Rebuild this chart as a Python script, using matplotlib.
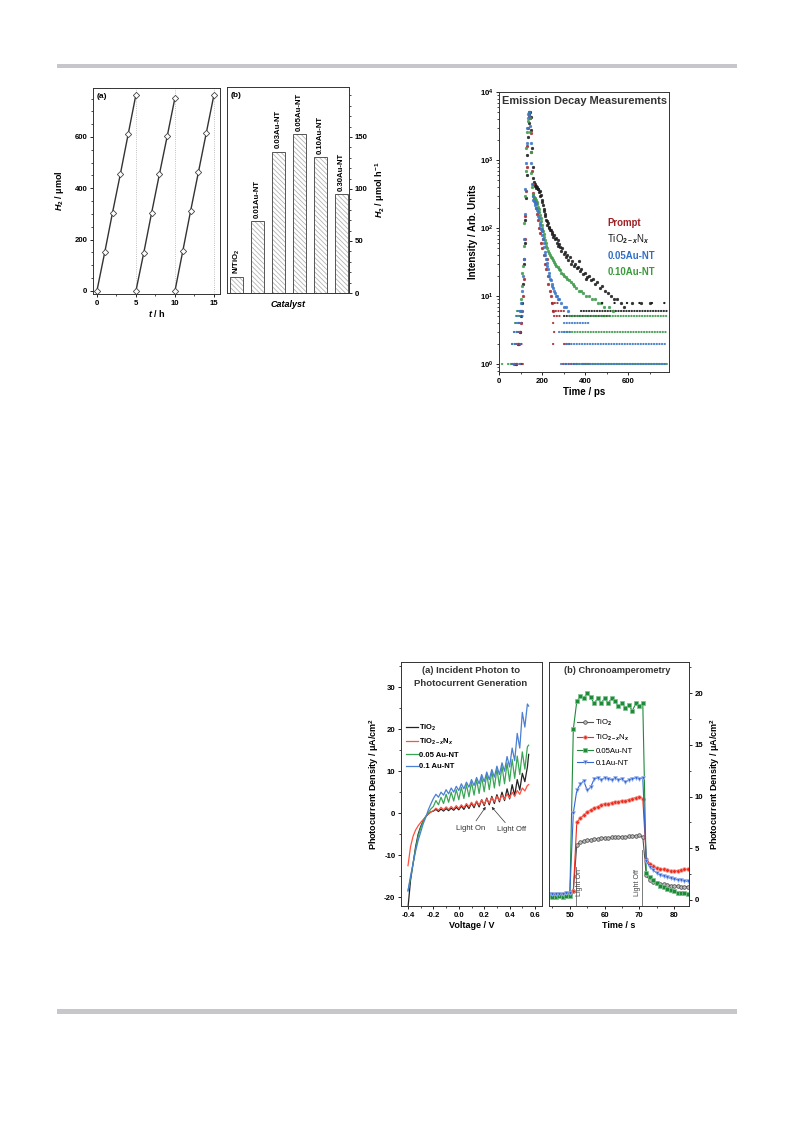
import numpy as np
import matplotlib
matplotlib.use('Agg')
import matplotlib.pyplot as plt
from matplotlib.patches import Rectangle
from matplotlib.ticker import MultipleLocator, LogLocator, NullFormatter

plt.rcParams['font.family'] = ['Liberation Sans', 'DejaVu Sans']
plt.rcParams['font.weight'] = 'bold'
plt.rcParams['axes.labelweight'] = 'bold'
plt.rcParams['mathtext.fontset'] = 'custom'
plt.rcParams['mathtext.rm'] = 'Liberation Sans:bold'
plt.rcParams['mathtext.it'] = 'Liberation Sans:italic:bold'
plt.rcParams['mathtext.bf'] = 'Liberation Sans:bold'
plt.rcParams['axes.linewidth'] = 0.8
plt.rcParams['hatch.linewidth'] = 0.6
plt.rcParams['axes.unicode_minus'] = False

# ---------------- data ----------------
# (a) H2 evolution, three cycles
cycle1_t = [0, 1, 2, 3, 4, 5]
cycle1_h2 = [0, 150, 305, 455, 610, 765]
cycle2_t = [5, 6, 7, 8, 9, 10]
cycle2_h2 = [0, 148, 303, 454, 602, 753]
cycle3_t = [10, 11, 12, 13, 14, 15]
cycle3_h2 = [0, 155, 311, 462, 614, 765]

# (b) H2 rates
catalysts = ['N/TiO$_2$', '0.01Au-NT', '0.03Au-NT', '0.05Au-NT', '0.10Au-NT', '0.30Au-NT']
rates = [15, 69, 136, 153, 131, 95]

# Emission decay (time ps, counts)
prompt_pts = [(70, 1), (78, 1), (86, 2), (92, 2), (98, 3), (103, 4), (107, 6), (111, 10), (114, 18),
              (117, 35), (120, 70), (123, 150), (126, 350), (129, 800), (132, 1600), (135, 3000),
              (138, 4500), (141, 5000), (144, 4200), (147, 2500), (150, 1300), (153, 700), (156, 450),
              (159, 330), (162, 280), (166, 240), (170, 200), (175, 160), (180, 130), (185, 100),
              (190, 85), (194, 60), (198, 95), (202, 50), (206, 70), (210, 40), (214, 30), (218, 25),
              (222, 35), (226, 20), (230, 15), (235, 12), (240, 10), (246, 8), (252, 6)]
tin_pts = [(80, 1), (90, 2), (98, 3), (104, 5), (109, 8), (113, 15), (117, 30), (120, 60), (123, 130),
           (126, 280), (129, 600), (132, 1200), (135, 2200), (138, 3500), (141, 4800), (144, 5000),
           (147, 4300), (150, 2800), (153, 1500), (156, 800), (159, 550), (162, 470), (165, 440),
           (168, 410), (171, 420), (174, 390), (177, 400), (180, 370), (183, 380), (186, 340),
           (189, 350), (192, 300), (195, 310), (198, 260), (201, 240), (204, 215), (207, 190),
           (210, 175), (213, 160), (216, 150), (219, 130), (222, 125), (225, 112), (228, 118),
           (231, 100), (234, 105), (237, 92), (240, 95), (244, 82), (248, 88), (252, 75), (256, 80),
           (260, 68), (264, 72), (268, 60), (272, 66), (276, 55), (280, 58), (285, 52), (290, 46),
           (295, 50), (300, 42), (305, 45), (310, 38), (316, 40), (322, 34), (328, 37), (334, 30),
           (340, 33), (347, 28), (354, 30), (361, 26), (368, 27), (372, 33), (375, 23), (383, 25),
           (391, 21), (399, 22), (405, 18), (408, 19), (417, 20), (426, 17), (436, 18), (446, 15),
           (457, 16), (468, 13), (480, 14), (492, 12), (505, 11), (520, 10), (535, 9), (550, 9),
           (565, 8), (580, 7), (620, 8), (660, 8), (700, 8)]
au005_pts = [(100, 6), (104, 8), (108, 12), (111, 20), (114, 35), (117, 70), (120, 160), (123, 380),
             (126, 900), (129, 1800), (132, 3000), (135, 4200), (138, 5000), (141, 4600), (144, 3200),
             (147, 1800), (150, 900), (153, 450), (156, 300), (159, 260), (162, 250), (165, 235),
             (168, 220), (171, 230), (174, 200), (177, 185), (180, 170), (183, 150), (186, 140),
             (189, 120), (192, 110), (195, 98), (198, 90), (201, 80), (204, 70), (207, 60), (210, 52),
             (213, 45), (216, 40), (219, 35), (222, 31), (225, 28), (228, 25), (231, 22), (234, 20),
             (237, 18), (240, 17), (244, 15), (248, 14), (252, 13), (256, 12), (260, 11), (265, 10),
             (270, 10), (275, 9), (280, 9), (290, 8), (300, 7), (310, 7), (320, 6)]
au010_pts = [(98, 6), (102, 9), (106, 14), (109, 22), (112, 28), (115, 55), (118, 120), (121, 300),
             (124, 700), (127, 1500), (130, 2600), (133, 3800), (136, 4700), (139, 5000), (142, 4200),
             (145, 2600), (148, 1300), (151, 650), (154, 400), (157, 320), (160, 300), (163, 290),
             (166, 280), (169, 270), (172, 255), (175, 240), (178, 225), (181, 205), (184, 190),
             (187, 170), (190, 155), (193, 140), (196, 125), (199, 112), (202, 100), (205, 90),
             (208, 82), (211, 74), (214, 67), (217, 60), (220, 55), (224, 50), (228, 46), (232, 43),
             (236, 40), (240, 38), (245, 36), (250, 34), (255, 32), (260, 30), (266, 28), (272, 27),
             (278, 25), (284, 24), (290, 22), (297, 21), (304, 20), (311, 19), (318, 18), (326, 17),
             (334, 16), (342, 15), (350, 14), (360, 13), (370, 12), (380, 12), (392, 11), (404, 10),
             (416, 10), (430, 9), (445, 9), (460, 8), (475, 8), (490, 7), (510, 7), (530, 6)]
# quantised count plateaus: (counts, t_start, t_end)
prompt_runs = [(1, 62, 112), (2, 78, 110), (3, 86, 110), (4, 92, 112), (1, 298, 365), (1, 392, 420),
               (2, 250, 254), (2, 300, 335), (3, 255, 262), (4, 250, 262), (5, 255, 292),
               (6, 250, 300), (8, 246, 272)]
tin_runs = [(1, 100, 112), (6, 380, 780), (5, 300, 520)]
tin_sparse_runs = [(8, 480, 780)]
au005_runs = [(1, 60, 100), (2, 62, 108), (3, 72, 108), (4, 80, 110), (5, 85, 110), (6, 90, 110),
              (1, 290, 780), (2, 310, 780), (3, 280, 330), (4, 300, 420)]
au010_runs = [(1, 12, 20), (1, 40, 62), (2, 60, 80), (3, 70, 90), (4, 75, 95), (5, 80, 100),
              (6, 85, 100), (5, 330, 780), (3, 300, 780), (1, 360, 780)]

# Photocurrent vs voltage (chopped light)
voltage = [-0.40, -0.38, -0.36, -0.34, -0.32, -0.30, -0.28, -0.26, -0.24, -0.22, -0.20,
           -0.18, -0.16, -0.14, -0.12, -0.10, -0.08, -0.06, -0.04, -0.02, 0.00,
           0.02, 0.04, 0.06, 0.08, 0.10, 0.12, 0.14, 0.16, 0.18, 0.20,
           0.22, 0.24, 0.26, 0.28, 0.30, 0.32, 0.34, 0.36, 0.38, 0.40,
           0.42, 0.44, 0.46, 0.48, 0.50, 0.52, 0.54, 0.55]
j_tio2 = [-22.5, -16, -12, -8, -5, -3.2, -1.8, -0.8, -0.2, 0.3, 0.5,
          0.9, 0.4, 1.0, 0.5, 1.1, 0.6, 1.2, 0.7, 1.4, 0.8,
          1.7, 0.9, 2.0, 1.1, 2.4, 1.3, 2.8, 1.5, 3.2, 1.8,
          3.6, 2.0, 4.0, 2.3, 4.4, 2.7, 5.0, 3.0, 5.8, 3.4,
          6.8, 4.2, 8.0, 5.5, 9.5, 7.5, 11.0, 14.0]
j_tion = [-12.5, -8, -5.5, -4, -3, -2.2, -1.5, -0.8, -0.2, 0.3, 0.6,
          1.2, 0.7, 1.4, 0.8, 1.5, 0.9, 1.6, 1.0, 1.8, 1.1,
          2.0, 1.3, 2.3, 1.5, 2.6, 1.7, 2.9, 1.9, 3.2, 2.1,
          3.4, 2.4, 3.7, 2.7, 4.0, 3.0, 4.3, 3.3, 4.6, 3.6,
          5.0, 4.0, 5.4, 4.5, 6.0, 5.3, 6.6, 6.8]
j_au005 = [-18.5, -15.5, -12, -8.5, -5.5, -3.5, -2, -0.8, 0.2, 1.0, 1.6,
           3.0, 2.0, 3.8, 2.3, 4.5, 2.6, 5.0, 2.9, 5.6, 3.2,
           6.2, 3.5, 6.8, 3.9, 7.4, 4.3, 8.0, 4.7, 8.6, 5.1,
           9.3, 5.6, 10.0, 6.0, 10.6, 6.5, 11.2, 7.0, 12.0, 7.6,
           12.8, 8.3, 13.6, 9.2, 14.6, 10.5, 15.8, 16.2]
j_au01 = [-18.5, -15, -12, -9, -6.5, -4.5, -2.5, -1, 0.8, 2.2, 3.5,
          4.5, 3.8, 5.0, 4.3, 5.6, 4.6, 6.0, 5.0, 6.4, 5.4,
          7.0, 5.8, 7.4, 6.2, 8.0, 6.6, 8.5, 7.0, 9.2, 7.5,
          9.8, 8.0, 10.4, 8.6, 11.2, 9.2, 12.0, 10.0, 13.5, 11.0,
          15.5, 12.5, 19.0, 15.5, 24.0, 20.5, 26.0, 25.5]

# Chronoamperometry (time s)
time_s = list(range(44, 85))
ca_tio2 = [0.45, 0.5, 0.5, 0.45, 0.5, 0.55, 0.6, 0.9, 5.3, 5.6, 5.7, 5.8, 5.8, 5.9, 5.9, 6.0, 6.0,
           6.0, 6.05, 6.1, 6.1, 6.1, 6.1, 6.15, 6.2, 6.2, 6.25, 6.1, 2.4, 1.9, 1.75, 1.65, 1.55,
           1.5, 1.45, 1.4, 1.35, 1.35, 1.3, 1.3, 1.3]
ca_tion = [0.55, 0.55, 0.6, 0.6, 0.6, 0.65, 0.7, 0.85, 7.5, 7.9, 8.2, 8.5, 8.7, 8.9, 9.0, 9.2, 9.3,
           9.3, 9.4, 9.5, 9.5, 9.6, 9.6, 9.7, 9.8, 9.9, 10.0, 9.8, 4.0, 3.5, 3.3, 3.1, 3.0, 2.95,
           2.9, 2.85, 2.8, 2.85, 2.9, 2.95, 3.0]
ca_au005 = [0.35, 0.3, 0.3, 0.35, 0.3, 0.35, 0.4, 16.5, 19.2, 19.7, 19.5, 20.0, 19.6, 19.0, 19.5,
            19.0, 19.5, 19.0, 19.5, 19.2, 18.7, 19.0, 18.6, 18.8, 18.3, 19.0, 18.7, 19.0, 2.6, 2.2,
            1.9, 1.6, 1.4, 1.3, 1.1, 1.0, 0.9, 0.7, 0.7, 0.65, 0.6]
ca_au01 = [0.6, 0.6, 0.55, 0.6, 0.6, 0.65, 0.7, 8.4, 10.6, 11.2, 11.5, 10.6, 10.9, 11.7, 11.8, 11.6,
           11.8, 11.7, 11.6, 11.8, 11.6, 11.7, 11.4, 11.6, 11.7, 11.8, 11.7, 11.8, 3.8, 3.2, 2.9,
           2.6, 2.4, 2.3, 2.2, 2.1, 2.0, 1.95, 1.9, 1.85, 1.8]

# ---------------- figure ----------------
W, H = 793, 1121
fig = plt.figure(figsize=(W / 100, H / 100), dpi=100)


def rect(l, t, r, b):
    return [l / W, 1 - b / H, (r - l) / W, (b - t) / H]


# page rules
for y0, y1 in [(64, 68), (1009, 1014)]:
    fig.add_artist(Rectangle((57 / W, 1 - y1 / H), (737 - 57) / W, (y1 - y0) / H,
                             transform=fig.transFigure, color='#c7c7cb', lw=0))


def style_ticks(ax, size=5.6):
    ax.tick_params(which='major', direction='out', length=2.5, width=0.6, labelsize=size, pad=1.5)
    ax.tick_params(which='minor', direction='out', length=1.5, width=0.5)
    for s in ax.spines.values():
        s.set_linewidth(0.7)
        s.set_color('#333333')


# ---- panel (a)
ax = fig.add_axes(rect(93, 88, 220, 294))
for xv in [5, 10, 15]:
    ax.axvline(xv, color='#aaaaaa', ls=':', lw=0.6, zorder=0)
for tt, hh in [(cycle1_t, cycle1_h2), (cycle2_t, cycle2_h2), (cycle3_t, cycle3_h2)]:
    ax.plot(tt, hh, color='#333333', lw=1.0, marker='D', ms=3.2, mfc='white', mec='#444444', mew=0.6)
ax.set_xlim(-0.5, 15.77)
ax.set_ylim(-12, 791)
ax.xaxis.set_major_locator(MultipleLocator(5))
ax.xaxis.set_minor_locator(MultipleLocator(2.5))
ax.yaxis.set_major_locator(MultipleLocator(200))
ax.yaxis.set_minor_locator(MultipleLocator(50))
style_ticks(ax)
ax.set_xlabel('$t$ / h', fontsize=6.5, labelpad=1)
ax.set_ylabel('$H_2$ / μmol', fontsize=6.5, labelpad=6)
ax.text(0.03, 0.975, '(a)', transform=ax.transAxes, fontsize=6, va='top', ha='left')

# ---- panel (b)
ax = fig.add_axes(rect(227, 87, 349, 293))
xb = np.arange(len(catalysts))
ax.bar(xb, rates, width=0.62, color='white', edgecolor='#b4b4b4', hatch='\\\\\\\\\\\\\\', lw=0)
ax.bar(xb, rates, width=0.62, fill=False, edgecolor='#555555', lw=0.7)
for xi, r, name in zip(xb, rates, catalysts):
    ax.text(xi, r + 3, name, rotation=90, ha='center', va='bottom', fontsize=5.6)
ax.set_xlim(-0.45, 5.38)
ax.set_ylim(0, 198)
ax.set_xticks([])
ax.yaxis.tick_right()
ax.yaxis.set_label_position('right')
ax.yaxis.set_major_locator(MultipleLocator(50))
ax.yaxis.set_minor_locator(MultipleLocator(10))
style_ticks(ax)
ax.set_ylabel('$H_2$ / μmol h$^{-1}$', fontsize=6.5, labelpad=4)
ax.set_xlabel('Catalyst', fontsize=6.5, fontstyle='italic', labelpad=5)
ax.text(0.03, 0.975, '(b)', transform=ax.transAxes, fontsize=6, va='top', ha='left')

# ---- emission decay
ax = fig.add_axes(rect(499, 92, 669, 372))
ax.set_yscale('log')
series = [(tin_pts, tin_runs, '#1a1a1a'), (prompt_pts, prompt_runs, '#a3262a'),
          (au010_pts, au010_runs, '#3d9a4a'), (au005_pts, au005_runs, '#3a76c8')]
for pts, runs, c in series:
    for lvl, t0, t1 in runs:
        ax.plot([t0, t1], [lvl, lvl], color=c, lw=1.6, ls=(0, (0.1, 1.1)),
                dash_capstyle='round', alpha=0.9)
    tt, ii = zip(*pts)
    ax.plot(tt, ii, ls='none', marker='o', ms=2.0, color=c, mew=0.3, alpha=0.9)
for lvl, t0, t1 in tin_sparse_runs:
    ax.plot([t0, t1], [lvl, lvl], color='#1a1a1a', lw=1.6, ls=(0, (0.1, 5.5)), dash_capstyle='round')
ax.set_xlim(0, 790)
ax.set_ylim(0.763, 1e4)
ax.xaxis.set_major_locator(MultipleLocator(200))
ax.xaxis.set_minor_locator(MultipleLocator(100))
ax.yaxis.set_major_locator(LogLocator(base=10, numticks=10))
ax.yaxis.set_minor_locator(LogLocator(base=10, subs=np.arange(2, 10), numticks=10))
ax.yaxis.set_minor_formatter(NullFormatter())
style_ticks(ax)
ax.set_xlabel('Time / ps', fontsize=7, labelpad=2)
ax.set_ylabel('Intensity / Arb. Units', fontsize=7, labelpad=1)
ax.text(0.5, 0.985, 'Emission Decay Measurements', transform=ax.transAxes, ha='center', va='top',
        fontsize=7.9, color='#333333')
leg_txt = [('Prompt', '#9e2124', 'bold'), ('TiO$_{2-x}$N$_x$', '#1a1a1a', 'normal'),
           ('0.05Au-NT', '#2f6fc8', 'bold'), ('0.10Au-NT', '#3a9a3a', 'bold')]
for k, (s, c, w) in enumerate(leg_txt):
    ax.text(0.637, 0.532 - k * 0.058, s, transform=ax.transAxes, color=c, fontsize=6.9,
            fontweight=w, va='center', ha='left')

# ---- photocurrent vs voltage
ax = fig.add_axes(rect(401, 662, 542, 906))
ax.plot(voltage, j_tio2, color='#222222', lw=0.9, label='TiO$_2$')
ax.plot(voltage, j_tion, color='#ff5040', lw=0.9, label='TiO$_{2-x}$N$_x$')
ax.plot(voltage, j_au005, color='#3aa655', lw=0.9, label='0.05 Au-NT')
ax.plot(voltage, j_au01, color='#4a7fd4', lw=0.9, label='0.1 Au-NT')
ax.set_xlim(-0.455, 0.655)
ax.set_ylim(-22.1, 36)
ax.xaxis.set_major_locator(MultipleLocator(0.2))
ax.xaxis.set_minor_locator(MultipleLocator(0.1))
ax.yaxis.set_major_locator(MultipleLocator(10))
ax.yaxis.set_minor_locator(MultipleLocator(5))
ax.xaxis.set_major_formatter(matplotlib.ticker.FormatStrFormatter('%.1f'))
style_ticks(ax)
ax.set_xlabel('Voltage / V', fontsize=6.5, labelpad=2)
ax.set_ylabel('Photocurrent Density / μA/cm$^2$', fontsize=6.5, labelpad=2)
ax.text(0.497, 0.985, '(a) Incident Photon to\nPhotocurrent Generation', transform=ax.transAxes,
        ha='center', va='top', fontsize=6.8, linespacing=1.6, color='#333333')
ax.legend(loc='upper left', bbox_to_anchor=(0.0, 0.77), frameon=False, fontsize=5.5,
          handlelength=1.6, handletextpad=0.2, labelspacing=0.55, borderaxespad=0.2)
ax.annotate('Light On', xy=(0.212, 1.5), xytext=(0.095, -3.6), ha='center', va='center',
            fontsize=5.5, fontweight='normal', color='#333333',
            arrowprops=dict(arrowstyle='-|>', lw=0.5, color='#333333', mutation_scale=4, shrinkA=1, shrinkB=0))
ax.annotate('Light Off', xy=(0.259, 1.5), xytext=(0.415, -4.0), ha='center', va='center',
            fontsize=5.5, fontweight='normal', color='#333333',
            arrowprops=dict(arrowstyle='-|>', lw=0.5, color='#333333', mutation_scale=4, shrinkA=1, shrinkB=0))

# ---- chronoamperometry
ax = fig.add_axes(rect(549, 662, 689, 906))
ax.plot(time_s, ca_tio2, color='#555555', lw=0.8, marker='o', ms=2.6, mfc='#bbbbbb', mec='#444444',
        mew=0.5, label='TiO$_2$')
ax.plot(time_s, ca_tion, color='#ee2a1e', lw=0.8, marker='o', ms=2.6, mfc='#ee2a1e', mec='#f39b90',
        mew=0.5, label='TiO$_{2-x}$N$_x$')
ax.plot(time_s, ca_au005, color='#1f8a3a', lw=0.8, marker='s', ms=2.4, mfc='#1f8a3a', mec='#7cc48d',
        mew=0.5, label='0.05Au-NT')
ax.plot(time_s, ca_au01, color='#3366d6', lw=0.8, marker='v', ms=2.8, mfc='#3366d6', mec='#9fb8ec',
        mew=0.5, label='0.1Au-NT')
ax.set_xlim(44, 84.3)
ax.set_ylim(-0.58, 23.0)
ax.plot([51.65, 51.65], [-0.58, 3.2], color='#666666', lw=0.6)
ax.plot([70.8, 70.8], [-0.58, 4.8], color='#666666', lw=0.6)
ax.text(52.9, 0.4, 'Light On', rotation=90, ha='center', va='bottom', fontsize=5, fontweight='normal',
        color='#444444')
ax.text(69.6, 0.4, 'Light Off', rotation=90, ha='center', va='bottom', fontsize=5, fontweight='normal',
        color='#444444')
ax.xaxis.set_major_locator(MultipleLocator(10))
ax.xaxis.set_minor_locator(MultipleLocator(5))
ax.yaxis.set_major_locator(MultipleLocator(5))
ax.yaxis.set_minor_locator(MultipleLocator(2.5))
ax.yaxis.tick_right()
ax.yaxis.set_label_position('right')
style_ticks(ax)
ax.set_xlabel('Time / s', fontsize=6.5, labelpad=2)
ax.set_ylabel('Photocurrent Density / μA/cm$^2$', fontsize=6.5, labelpad=4)
ax.text(0.49, 0.985, '(b) Chronoamperometry', transform=ax.transAxes, ha='center', va='top',
        fontsize=6.7, color='#333333')
leg = ax.legend(loc='upper left', bbox_to_anchor=(0.17, 0.79), frameon=False, fontsize=5.6,
                handlelength=2.0, handletextpad=0.3, labelspacing=0.6, borderaxespad=0.2)
for t in leg.get_texts():
    t.set_fontweight('normal')

fig.savefig('out.png', dpi=100)
